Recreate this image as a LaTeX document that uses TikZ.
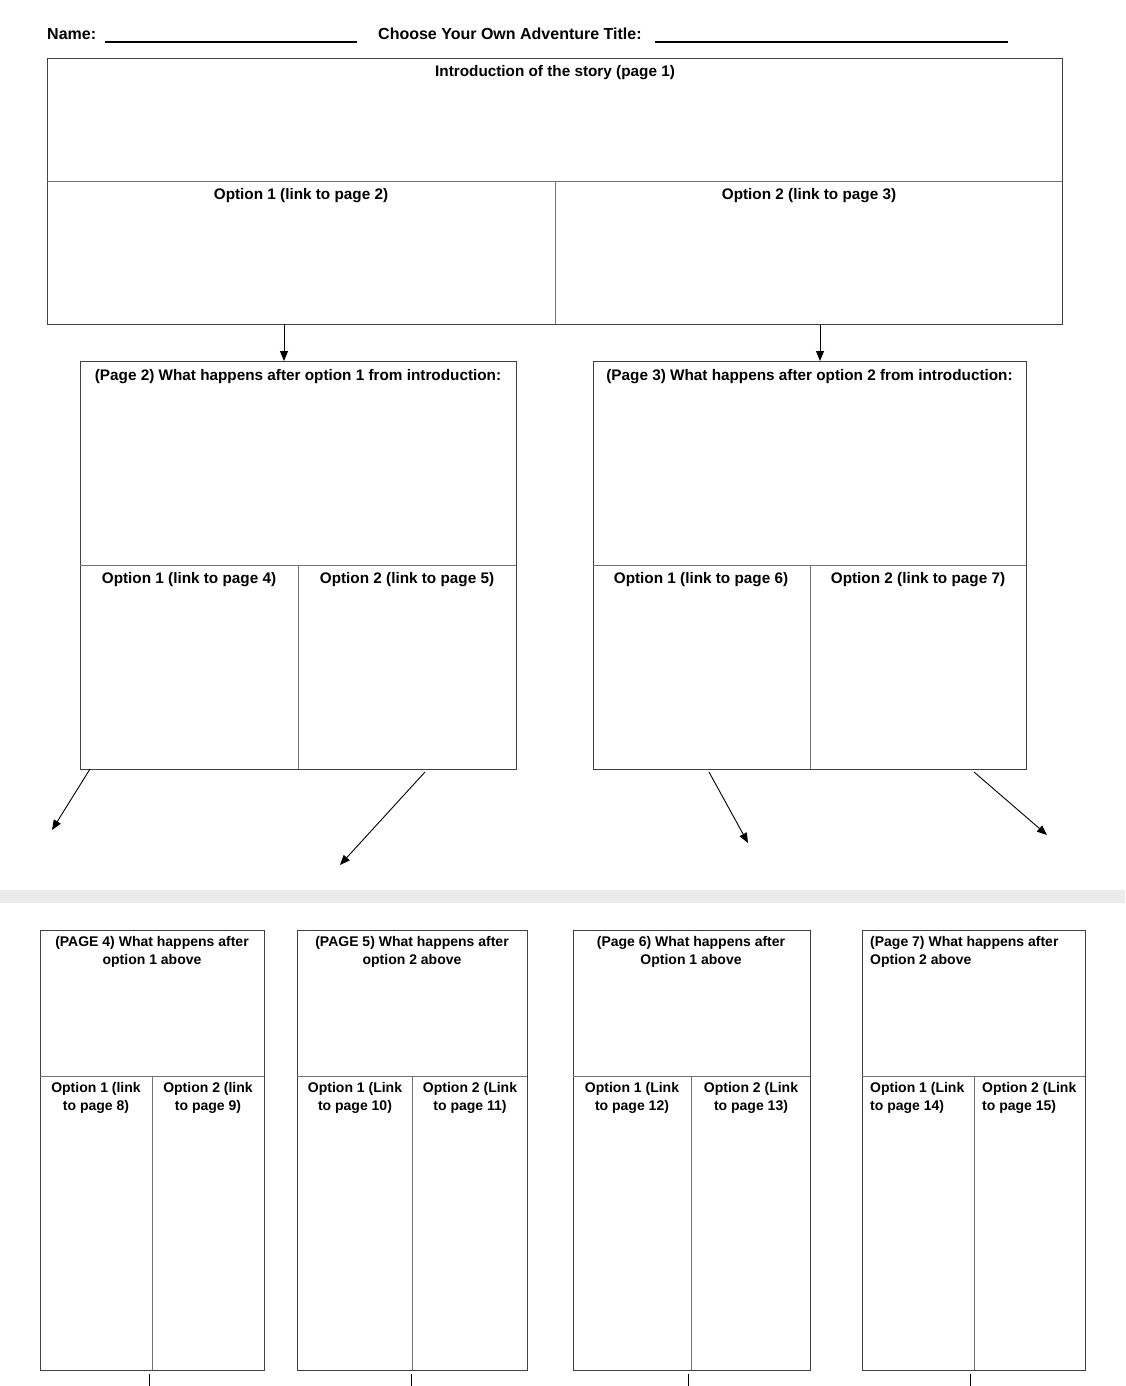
\documentclass[tikz,border=0pt]{standalone}
\usepackage{fontspec}
\setmainfont{Liberation Sans}
\usetikzlibrary{arrows.meta}
\begin{document}
\begin{tikzpicture}[x=1pt,y=-1pt,
 frame/.style={draw=black!75, line width=0.9pt, inner sep=0pt, anchor=north west},
 div/.style={draw=black!55, line width=0.9pt},
 hd/.style={inner sep=0pt, anchor=base west, font=\fontsize{16}{19}\selectfont\bfseries},
 lab/.style={inner sep=0pt, anchor=base, font=\fontsize{15.3}{18}\selectfont\bfseries},
 sml/.style={inner sep=0pt, anchor=base, align=center, font=\fontsize{14}{18}\selectfont\bfseries},
 smlL/.style={inner sep=0pt, anchor=base west, align=left, font=\fontsize{14}{18}\selectfont\bfseries},
 arr/.style={-{Triangle[length=10pt,width=8pt]}, line width=0.9pt, black},
 tickln/.style={line width=0.9pt, black},
 uline/.style={line width=1.3pt, black}]
\useasboundingbox[fill=white] (0,0) rectangle (1125,1386);
% header
\node[hd] (name) at (47,40) {Name:};
\draw[uline] (105,42) -- (357,42);
\node[hd] (title) at (378,40) {Choose Your Own Adventure Title:};
\draw[uline] (655,42) -- (1008,42);
% top box
\node[frame, minimum width=1015pt, minimum height=266pt] (intro) at (47,58) {};
\draw[div] (47,181) -- (1062,181);
\draw[div] (555,181) -- (555,324);
\node[lab] (introt) at (555,77) {Introduction of the story (page 1)};
\node[lab] (o1t) at (301,199) {Option 1 (link to page 2)};
\node[lab] (o2t) at (809,199) {Option 2 (link to page 3)};
% page 2 box
\node[frame, minimum width=436pt, minimum height=408pt] (p2) at (80,361) {};
\draw[div] (80,565) -- (516,565);
\draw[div] (298,565) -- (298,769);
\node[lab] (p2t) at (298,380) {(Page 2) What happens after option 1 from introduction:};
\node[lab] (p2o1) at (189,583) {Option 1 (link to page 4)};
\node[lab] (p2o2) at (407,583) {Option 2 (link to page 5)};
% page 3 box
\node[frame, minimum width=433pt, minimum height=408pt] (p3) at (593,361) {};
\draw[div] (593,565) -- (1026,565);
\draw[div] (810,565) -- (810,769);
\node[lab] (p3t) at (809.5,380) {(Page 3) What happens after option 2 from introduction:};
\node[lab] (p3o1) at (701,583) {Option 1 (link to page 6)};
\node[lab] (p3o2) at (918,583) {Option 2 (link to page 7)};
% arrows top
\coordinate (a1s) at (284,324);
\coordinate (a2s) at (820,325);
\draw[arr] (a1s) -- (a1s |- p2.north);
\draw[arr] (a2s) -- (a2s |- p3.north);
% diagonal arrows
\coordinate (d1s) at (90,769);  \coordinate (d1e) at (52,830);
\coordinate (d2s) at (425,772); \coordinate (d2e) at (340,865);
\coordinate (d3s) at (709,772); \coordinate (d3e) at (748,843);
\coordinate (d4s) at (974,772); \coordinate (d4e) at (1047,835);
\draw[arr] (d1s) -- (d1e);
\draw[arr] (d2s) -- (d2e);
\draw[arr] (d3s) -- (d3e);
\draw[arr] (d4s) -- (d4e);
% gray band
\fill[black!8] (0,890) rectangle (1125,903);
% bottom boxes
\node[frame, minimum width=224pt, minimum height=440pt] (b4) at (40,930) {};
\draw[div] (40,1076) -- (264,1076);
\draw[div] (152,1076) -- (152,1370);
\node[sml] (b4t) at (152,964) {(PAGE 4) What happens after\\option 1 above};
\node[sml] (b4o1) at (96,1110) {Option 1 (link\\to page 8)};
\node[sml] (b4o2) at (208,1110) {Option 2 (link\\to page 9)};

\node[frame, minimum width=230pt, minimum height=440pt] (b5) at (297,930) {};
\draw[div] (297,1076) -- (527,1076);
\draw[div] (412,1076) -- (412,1370);
\node[sml] (b5t) at (412,964) {(PAGE 5) What happens after\\option 2 above};
\node[sml] (b5o1) at (355,1110) {Option 1 (Link\\to page 10)};
\node[sml] (b5o2) at (470,1110) {Option 2 (Link\\to page 11)};

\node[frame, minimum width=237pt, minimum height=440pt] (b6) at (573,930) {};
\draw[div] (573,1076) -- (810,1076);
\draw[div] (691,1076) -- (691,1370);
\node[sml] (b6t) at (691,964) {(Page 6) What happens after\\Option 1 above};
\node[sml] (b6o1) at (632,1110) {Option 1 (Link\\to page 12)};
\node[sml] (b6o2) at (751,1110) {Option 2 (Link\\to page 13)};

\node[frame, minimum width=223pt, minimum height=440pt] (b7) at (862,930) {};
\draw[div] (862,1076) -- (1085,1076);
\draw[div] (974,1076) -- (974,1370);
\node[smlL] (b7t) at (870,964) {(Page 7) What happens after\\Option 2 above};
\node[smlL] (b7o1) at (870,1110) {Option 1 (Link\\to page 14)};
\node[smlL] (b7o2) at (982,1110) {Option 2 (Link\\to page 15)};
% bottom ticks
\coordinate (k1) at (149,1374); \coordinate (k2) at (411,1374);
\coordinate (k3) at (688,1374); \coordinate (k4) at (970,1374);
\draw[tickln] (k1) -- ++(0,12);
\draw[tickln] (k2) -- ++(0,12);
\draw[tickln] (k3) -- ++(0,12);
\draw[tickln] (k4) -- ++(0,12);
\end{tikzpicture}
\end{document}
